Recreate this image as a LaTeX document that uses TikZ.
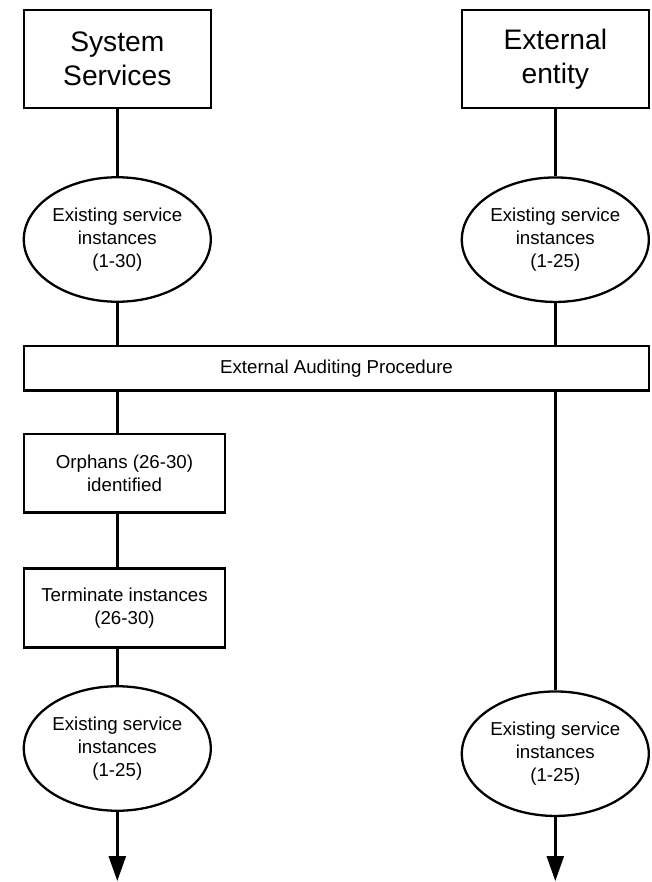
\documentclass[tikz,border=0pt]{standalone}
\usepackage{fontspec}
\setmainfont{Liberation Sans}
\usetikzlibrary{shapes.geometric,arrows.meta}
\begin{document}
\begin{tikzpicture}[x=1pt,y=-1pt,
  every node/.style={inner sep=0pt, align=center},
  titlebox/.style={draw, line width=2.5pt, rectangle, minimum width=187pt,
    minimum height=98pt, font=\fontsize{28.2}{34}\selectfont},
  procbox/.style={draw, line width=2.5pt, rectangle,
    font=\fontsize{18.7}{22.7}\selectfont},
  stateell/.style={draw, line width=2.3pt, ellipse, minimum width=187pt,
    minimum height=124.5pt, font=\fontsize{18.7}{22.7}\selectfont},
  link/.style={line width=2.5pt},
  flowout/.style={line width=2.5pt, -{Triangle[length=25pt,width=17pt]}}]
\useasboundingbox (0,0) rectangle (651,882);

% column heads
\node[titlebox] (ss) at (117.3,58.8) {System\\Services};
\node[titlebox] (ee) at (555.3,58.8) {External\\entity};

% initial instance sets
\node[stateell] (e1) at (117.3,239.5) {Existing service\\instances\\(1-30)};
\node[stateell] (e2) at (555.3,239.7) {Existing service\\instances\\(1-25)};

% shared audit step
\node[procbox, minimum width=625pt, minimum height=44.7pt] (audit) at (336.5,368.3)
  {External Auditing Procedure};

% left-column processing
\node[procbox, minimum width=201pt, minimum height=78.4pt] (orph) at (124.5,473.2)
  {Orphans (26-30)\\identified};
\node[procbox, minimum width=201pt, minimum height=78.6pt] (term) at (124.5,608)
  {Terminate instances\\(26-30)};

% resulting instance sets
\node[stateell] (e3) at (117.3,748.5) {Existing service\\instances\\(1-25)};
\node[stateell] (e4) at (555.3,753.7) {Existing service\\instances\\(1-25)};

\coordinate (endL) at (117.3,881);
\coordinate (endR) at (555.3,881);

% connectors
\draw[link] (ss.south) -- (e1.north);
\draw[link] (ee.south) -- (e2.north);
\draw[link] (e1.south) -- (e1.south |- audit.north);
\draw[link] (e2.south) -- (e2.south |- audit.north);
\draw[link] (audit.south -| e1.south) -- (orph.north -| e1.south);
\draw[link] (orph.south -| e1.south) -- (term.north -| e1.south);
\draw[link] (term.south -| e3.north) -- (e3.north);
\draw[flowout] (e3.south) -- (endL);
\draw[link] (audit.south -| e4.north) -- (e4.north);
\draw[flowout] (e4.south) -- (endR);
\end{tikzpicture}
\end{document}
